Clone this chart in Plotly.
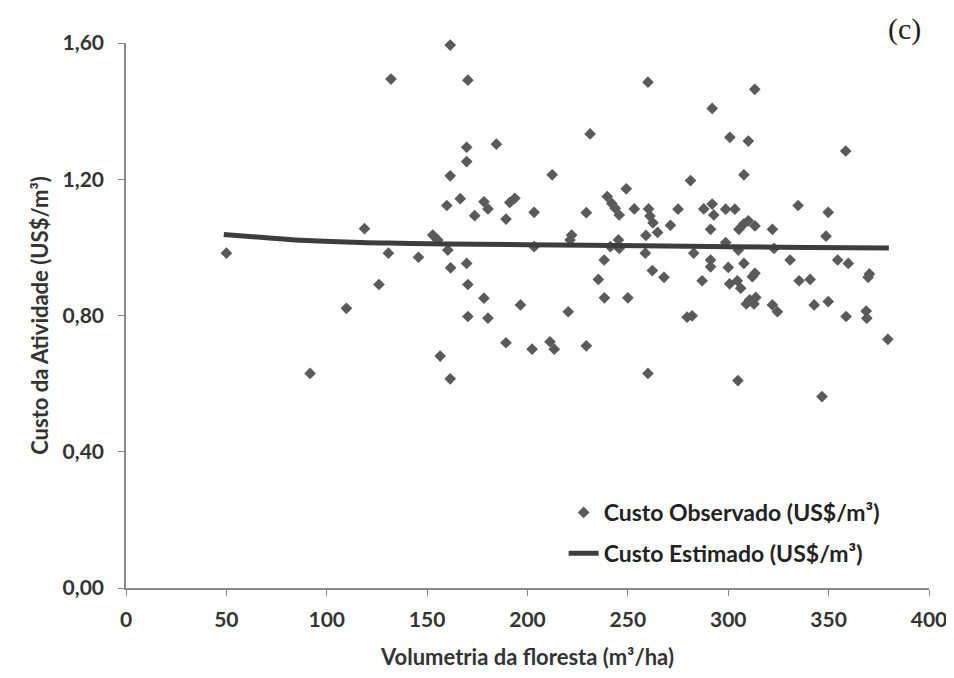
import plotly.graph_objects as go

# Observed cost points (volume m3/ha, cost US$/m3)
obs_x = [50, 91.7, 109.8, 118.8, 126, 130.7, 132, 145.7, 152.8, 155.3, 156.5, 159.8, 160.3,
         161.5, 161.5, 161.5, 161.7, 166.5, 169.7, 169.7, 169.7, 170.3, 170.3, 170.3, 173.7,
         178.3, 180.3, 178.3, 180.3, 184.5, 189.3, 189.3, 191.2, 193.7, 196.5, 202.3, 203.3,
         203.3, 211.2, 213.3, 212.3, 220.3, 221.2, 222, 229.3, 229.3, 231.2, 235.3, 238.2,
         238.3, 239.7, 241.3, 242, 243.7, 245.7, 245.3, 245.7, 249.2, 250, 253.2, 258.7, 259,
         260, 260.3, 261, 262.5, 260, 262.2, 264.8, 268, 271.2, 275, 279.5, 282, 281.2, 282.8,
         287, 287.8, 291.2, 291.2, 291.2, 292, 292, 292.8, 298.7, 298.7, 300, 300.7, 300.8,
         303.3, 304.5, 304.8, 305, 305.3, 306.2, 307.8, 307.8, 307.8, 309, 310, 310, 310.7,
         312, 312.8, 313.2, 313.3, 313.3, 313.7, 322, 322, 322.8, 324.5, 330.8, 334.8, 335.3,
         340.8, 342.8, 346.7, 348.7, 349.8, 349.8, 354.5, 358.5, 358.7, 359.8, 368.7, 369,
         369.7, 370.3, 379.5]
obs_y = [0.983, 0.630, 0.821, 1.055, 0.891, 0.983, 1.494, 0.971, 1.036, 1.022, 0.681, 1.123, 0.992,
         1.594, 1.210, 0.614, 0.940, 1.143, 1.294, 1.252, 0.953, 1.491, 0.891, 0.797, 1.093,
         1.134, 1.113, 0.851, 0.792, 1.303, 1.083, 0.720, 1.132, 1.144, 0.831, 0.701, 1.103,
         1.002, 0.723, 0.701, 1.213, 0.811, 1.022, 1.036, 1.102, 0.711, 1.333, 0.906, 0.963,
         0.852, 1.149, 1.002, 1.129, 1.115, 1.095, 1.022, 0.997, 1.172, 0.852, 1.113, 0.983, 1.035,
         1.485, 1.113, 1.092, 1.072, 0.630, 0.932, 1.044, 0.912, 1.065, 1.112, 0.795, 0.799, 1.196, 0.983,
         0.902, 1.113, 1.053, 0.963, 0.943, 1.408, 1.127, 1.095, 1.112, 1.014, 0.941, 0.893, 1.323,
         1.112, 0.902, 0.609, 0.992, 1.053, 0.880, 1.213, 1.069, 0.953, 0.834, 1.312, 1.078, 0.846,
         0.914, 0.834, 1.464, 1.063, 0.924, 0.853, 1.053, 0.831, 0.997, 0.811, 0.963, 1.123, 0.902,
         0.906, 0.831, 0.562, 1.033, 1.103, 0.841, 0.963, 1.283, 0.797, 0.953, 0.813, 0.792,
         0.912, 0.922, 0.730]

# Estimated cost curve
est_x = [48.7, 70, 90, 117, 137, 160, 200, 257, 300, 340, 380]
est_y = [1.038, 1.028, 1.020, 1.014, 1.012, 1.010, 1.008, 1.005, 1.002, 1.000, 0.998]

x_ticks = [0, 50, 100, 150, 200, 250, 300, 350, 400]
y_ticks = [0.0, 0.4, 0.8, 1.2, 1.6]
y_tick_labels = ["0,00", "0,40", "0,80", "1,20", "1,60"]

FONT = "Lato"
TXT = "#333333"

fig = go.Figure()
fig.add_trace(go.Scatter(
    x=obs_x, y=obs_y, mode="markers", name="Custo Observado (US$/m³)", legendgroup="a",
    cliponaxis=False,
    marker=dict(symbol="diamond", size=9, color="#5a5a5a", line=dict(width=0))))
fig.add_trace(go.Scatter(
    x=est_x, y=est_y, mode="lines", name="Custo Estimado (US$/m³)", legendgroup="b",
    line=dict(color="#3d3d3d", width=5, shape="spline")))

fig.update_layout(
    width=946, height=670,
    margin=dict(l=118, r=25, t=35, b=90, autoexpand=False),
    paper_bgcolor="white", plot_bgcolor="white",
    font=dict(family=FONT, color=TXT, size=21),
    showlegend=True,
    legend=dict(x=0.545, y=0.178, xanchor="left", yanchor="top",
                bgcolor="rgba(0,0,0,0)",
                font=dict(family=FONT, size=23, color="#222", weight="bold"),
                itemwidth=30, tracegroupgap=8),
    xaxis=dict(range=[0, 400], tickvals=x_ticks, ticks="outside", ticklen=6, tickcolor="#888",
               showline=True, linecolor="#888", linewidth=1.5, showgrid=False, zeroline=False,
               automargin=False, ticklabelstandoff=6,
               tickfont=dict(family=FONT, size=21, color=TXT, weight="bold"),
               title=dict(text="Volumetria da floresta (m³/ha)", standoff=20,
                          font=dict(family=FONT, size=22, color=TXT, weight="bold"))),
    yaxis=dict(range=[0, 1.6], tickvals=y_ticks, ticktext=y_tick_labels, ticks="outside",
               ticklen=6, tickcolor="#888", showline=True, linecolor="#888", linewidth=1.5,
               showgrid=False, zeroline=False, automargin=False, ticklabelstandoff=10,
               tickfont=dict(family=FONT, size=21, color=TXT, weight="bold"),
               title=dict(text="Custo da Atividade (US$/m³)", standoff=8,
                          font=dict(family=FONT, size=22, color=TXT, weight="bold"))),
)
fig.add_annotation(text="(c)", xref="paper", yref="paper", x=0.97, y=0.99,
                   xanchor="center", yanchor="bottom", showarrow=False,
                   font=dict(family="Liberation Serif", size=30, color="#222"))

fig.write_html("out.html")
